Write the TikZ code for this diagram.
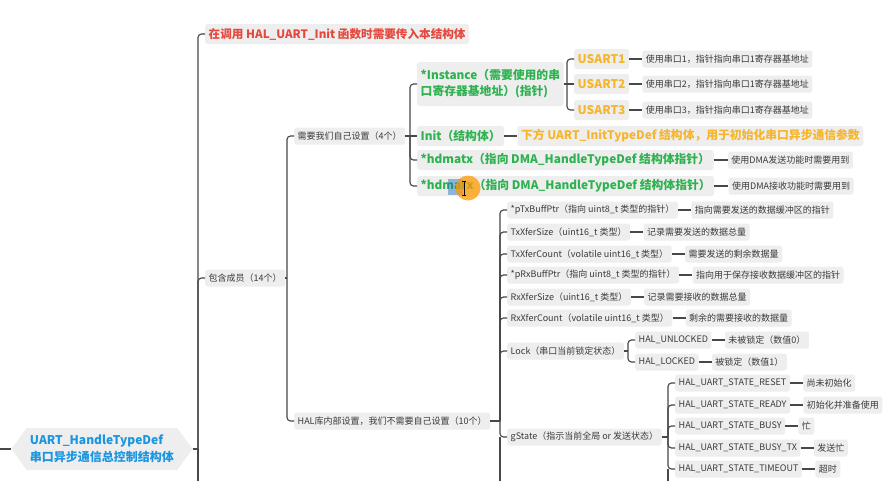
\documentclass[tikz,border=0pt]{standalone}
\usepackage{fontspec}
\setmainfont{Noto Sans CJK SC}
\usetikzlibrary{shapes.symbols}
\definecolor{boxgray}{HTML}{EEEEEE}
\definecolor{txtgray}{HTML}{3A3A3A}
\definecolor{lgray}{HTML}{484848}
\definecolor{mred}{HTML}{E5483C}
\definecolor{mgreen}{HTML}{2EB24F}
\definecolor{morange}{HTML}{F6B52B}
\definecolor{mblue}{HTML}{1B95E0}
% bracket connector: parent stub, then bus with rounded turn into the child
\newcommand\lnk[2]{%
  \draw[conn] (#1.east) -- ([xshift=-7pt]#2.west |- #1.east);
  \draw[conn,rounded corners=3.5pt] ([xshift=-7pt]#2.west |- #1.east) |- (#2.west);}
% straight connector between two nodes on the same level
\newcommand\lnks[2]{\draw[conn] (#1.east) -- (#2.west);}
\begin{document}
\begin{tikzpicture}[x=1pt,y=-1pt,
  box/.style={fill=boxgray, rounded corners=2.5pt, inner xsep=3.5pt, inner ysep=0pt,
    minimum height=17pt, anchor=west, text=txtgray, font=\fontsize{9}{10}\selectfont},
  big/.style={box, minimum height=20pt, font=\fontsize{11.8}{16}\selectfont\bfseries},
  gbig/.style={big, text=mgreen},
  obig/.style={big, text=morange},
  rbig/.style={big, text=mred},
  conn/.style={draw=lgray, line width=1.15pt}]
\useasboundingbox (0,0) rectangle (892,480);
\clip (0,0) rectangle (892,480);
\fill[white] (0,0) rectangle (892,480);

% root
\node[signal, signal to=west and east, signal pointer angle=108, fill=boxgray,
  minimum width=181pt, minimum height=42pt, inner sep=0pt, text=mblue, align=left,
  font=\fontsize{12}{17}\selectfont\bfseries] (root) at (102,449)
  {UART\_HandleTypeDef\\串口异步通信总控制结构体};
\coordinate (leftend) at (-5,449);
\draw[conn] (leftend) -- (root.west);

% top level
\node[rbig, font=\fontsize{11.6}{16}\selectfont\bfseries] (red) at (205,34) {在调用 HAL\_UART\_Init 函数时需要传入本结构体};
\node[box] (m14) at (205,278) {包含成员（14个）};
\lnk{root}{red}
\lnk{root}{m14}
\coordinate (trunkend) at (198,500);
\draw[conn] ([xshift=-7pt]m14.west |- root.east) -- (trunkend);

% level 2
\node[box] (self4) at (294,136) {需要我们自己设置（4个）};
\node[box] (hal10) at (294,421) {HAL库内部设置，我们不需要自己设置（10个）};
\lnk{m14}{self4}
\lnk{m14}{hal10}

% self-set members
\node[gbig, align=left, minimum height=44pt] (inst) at (417,84)
  {*Instance（需要使用的串\\口寄存器基地址）(指针)};
\node[gbig] (init) at (417,136) {Init（结构体）};
\node[gbig] (hdtx) at (417,160) {*hdmatx（指向 DMA\_HandleTypeDef 结构体指针）};
\node[gbig] (hdrx) at (417,186) {*hdmarx（指向 DMA\_HandleTypeDef 结构体指针）};
\lnk{self4}{inst} \lnks{self4}{init} \lnk{self4}{hdtx} \lnk{self4}{hdrx}

\node[obig, font=\fontsize{12}{14}\selectfont\bfseries] (us1) at (574,59) {USART1};
\node[obig, font=\fontsize{12}{14}\selectfont\bfseries] (us2) at (574,84) {USART2};
\node[obig, font=\fontsize{12}{14}\selectfont\bfseries] (us3) at (574,110) {USART3};
\lnk{inst}{us1} \lnks{inst}{us2} \lnk{inst}{us3}

\node[box] (d1) at ([xshift=13pt]us1.east) {使用串口1，指针指向串口1寄存器基地址};
\node[box] (d2) at ([xshift=13pt]us2.east) {使用串口2，指针指向串口1寄存器基地址};
\node[box] (d3) at ([xshift=13pt]us3.east) {使用串口3，指针指向串口1寄存器基地址};
\lnks{us1}{d1} \lnks{us2}{d2} \lnks{us3}{d3}

\node[obig] (initd) at ([xshift=13pt]init.east) {下方 UART\_InitTypeDef 结构体，用于初始化串口异步通信参数};
\node[box] (txd) at ([xshift=14pt]hdtx.east) {使用DMA发送功能时需要用到};
\node[box] (rxd) at ([xshift=14pt]hdrx.east) {使用DMA接收功能时需要用到};
\lnks{init}{initd} \lnks{hdtx}{txd} \lnks{hdrx}{rxd}

% HAL internal members
\node[box] (ptx) at (507,210) {*pTxBuffPtr（指向 uint8\_t 类型的指针）};
\node[box] (txs) at (507,232) {TxXferSize（uint16\_t 类型）};
\node[box] (txc) at (507,254) {TxXferCount（volatile uint16\_t 类型）};
\node[box] (prx) at (507,275) {*pRxBuffPtr（指向 uint8\_t 类型的指针）};
\node[box] (rxs) at (507,297) {RxXferSize（uint16\_t 类型）};
\node[box] (rxc) at (507,318) {RxXferCount（volatile uint16\_t 类型）};
\node[box] (lock) at (507,351) {Lock（串口当前锁定状态）};
\node[box] (gst) at (507,437) {gState（指示当前全局 or 发送状态）};
\foreach \c in {ptx,txs,txc,prx,rxs,rxc,lock,gst} {\lnk{hal10}{\c}}
\coordinate (halend) at (500,500);
\draw[conn] ([xshift=-7pt]gst.west) -- (halend);

\node[box] (ptxd) at ([xshift=13pt]ptx.east) {指向需要发送的数据缓冲区的指针};
\node[box] (txsd) at ([xshift=13pt]txs.east) {记录需要发送的数据总量};
\node[box] (txcd) at ([xshift=13pt]txc.east) {需要发送的剩余数据量};
\node[box] (prxd) at ([xshift=13pt]prx.east) {指向用于保存接收数据缓冲区的指针};
\node[box] (rxsd) at ([xshift=13pt]rxs.east) {记录需要接收的数据总量};
\node[box] (rxcd) at ([xshift=13pt]rxc.east) {剩余的需要接收的数据量};
\lnks{ptx}{ptxd} \lnks{txs}{txsd} \lnks{txc}{txcd}
\lnks{prx}{prxd} \lnks{rxs}{rxsd} \lnks{rxc}{rxcd}

% Lock
\node[box] (unl) at (635,340) {HAL\_UNLOCKED};
\node[box] (lkd) at (635,362) {HAL\_LOCKED};
\lnk{lock}{unl} \lnk{lock}{lkd}
\node[box] (unld) at ([xshift=13pt]unl.east) {未被锁定（数值0）};
\node[box] (lkdd) at ([xshift=13pt]lkd.east) {被锁定（数值1）};
\lnks{unl}{unld} \lnks{lkd}{lkdd}

% gState
\node[box] (s1) at (675,383) {HAL\_UART\_STATE\_RESET};
\node[box] (s2) at (675,405) {HAL\_UART\_STATE\_READY};
\node[box] (s3) at (675,426) {HAL\_UART\_STATE\_BUSY};
\node[box] (s4) at (675,448) {HAL\_UART\_STATE\_BUSY\_TX};
\node[box] (s5) at (675,469) {HAL\_UART\_STATE\_TIMEOUT};
\foreach \c in {s1,s2,s3,s4,s5} {\lnk{gst}{\c}}
\coordinate (gsend) at (668,500);
\draw[conn] ([xshift=-7pt]s5.west) -- (gsend);
\node[box] (s1d) at ([xshift=13pt]s1.east) {尚未初始化};
\node[box] (s2d) at ([xshift=13pt]s2.east) {初始化并准备使用};
\node[box] (s3d) at ([xshift=13pt]s3.east) {忙};
\node[box] (s4d) at ([xshift=13pt]s4.east) {发送忙};
\node[box] (s5d) at ([xshift=13pt]s5.east) {超时};
\lnks{s1}{s1d} \lnks{s2}{s2d} \lnks{s3}{s3d} \lnks{s4}{s4d} \lnks{s5}{s5d}

% screen cursor overlay
\fill[fill=cyan!50!blue, opacity=0.45] (448,179) rectangle (463,195);
\fill[orange!80!yellow, opacity=0.75] (468,188) circle (12.5);
\draw[black, line width=0.8pt] (464,181) -- (464,195) (462,181) -- (466,181) (462,195) -- (466,195);
\end{tikzpicture}
\end{document}
